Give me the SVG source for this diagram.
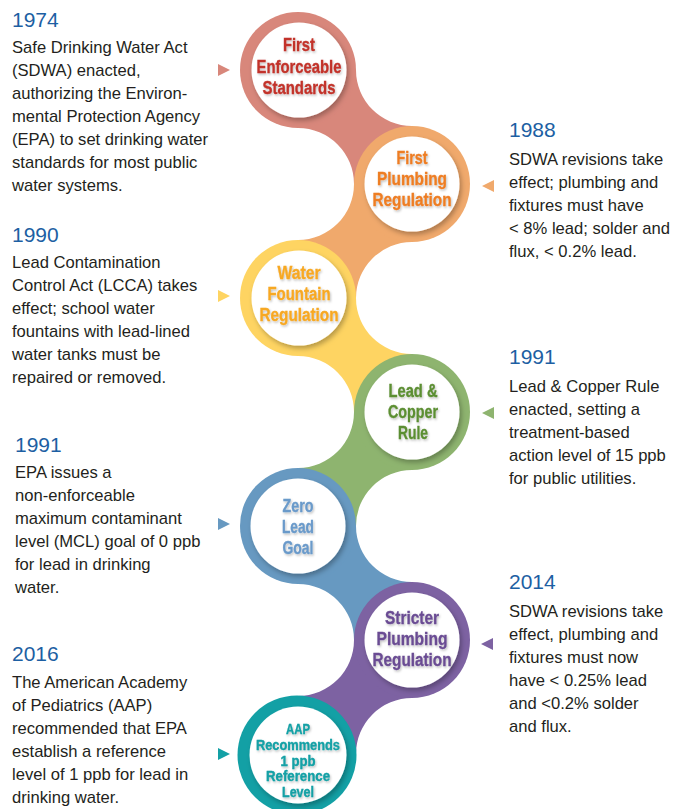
<svg xmlns="http://www.w3.org/2000/svg" width="686" height="809" viewBox="0 0 686 809">
<defs>
<filter id="disc" x="-20%" y="-20%" width="140%" height="140%">
<feDropShadow dx="2" dy="3" stdDeviation="2.5" flood-color="#000" flood-opacity="0.28"/>
</filter>
<filter id="ts" x="-10%" y="-20%" width="120%" height="150%">
<feDropShadow dx="1" dy="1.5" stdDeviation="1" flood-color="#000" flood-opacity="0.25"/>
</filter>
</defs>
<style>
.yr{font-family:"Liberation Sans",Arial,sans-serif;font-size:21px;fill:#1d5fa3}
.bd{font-family:"Liberation Sans",Arial,sans-serif;font-size:16.6px;fill:#231f20}
.lb{font-family:"Liberation Sans Narrow","Liberation Sans",Arial,sans-serif;font-weight:bold;font-size:18.8px;text-anchor:middle;filter:url(#ts);stroke-width:0.35}
.sm{font-size:14px}
.disc{fill:#fff;filter:url(#disc)}
</style>
<rect width="686" height="809" fill="#fff"/>
<g id="connectors">
<path d="M298,70 L356,70 A56,56 0 0 0 412,126 L412,184 L354,184 A56,56 0 0 0 298,128 Z" fill="#d8877b"/>
<path d="M412,184 L354,184 A56,56 0 0 1 298,240 L298,298 L356,298 A56,56 0 0 1 412,242 Z" fill="#f0a96c"/>
<path d="M298,298 L356,298 A56,56 0 0 0 412,354 L412,412 L354,412 A56,56 0 0 0 298,356 Z" fill="#fed462"/>
<path d="M412,412 L354,412 A56,56 0 0 1 298,468 L298,526 L356,526 A56,56 0 0 1 412,470 Z" fill="#8eb46f"/>
<path d="M298,526 L356,526 A56,56 0 0 0 412,582 L412,640 L354,640 A56,56 0 0 0 298,584 Z" fill="#6799c1"/>
<path d="M412,640 L354,640 A56,56 0 0 1 298,696 L298,754 L356,754 A56,56 0 0 1 412,698 Z" fill="#7d62a2"/>
</g>
<g id="node1">
<circle cx="298" cy="70" r="58" fill="#d8877b"/>
<circle class="disc" cx="299" cy="70" r="47.5"/>
<g class="lb" fill="#c2332a" stroke="#c2332a">
<text x="299" y="51" textLength="32" lengthAdjust="spacingAndGlyphs">First</text>
<text x="299" y="73" textLength="85" lengthAdjust="spacingAndGlyphs">Enforceable</text>
<text x="299" y="94" textLength="73" lengthAdjust="spacingAndGlyphs">Standards</text>
</g>
<polygon points="218,64 230,70 218,76" fill="#d8877b"/>
<text class="yr" x="12" y="27">1974</text>
<text class="bd" x="12" y="53">Safe Drinking Water Act</text>
<text class="bd" x="12" y="76">(SDWA) enacted,</text>
<text class="bd" x="12" y="99">authorizing the Environ-</text>
<text class="bd" x="12" y="122">mental Protection Agency</text>
<text class="bd" x="12" y="145">(EPA) to set drinking water</text>
<text class="bd" x="12" y="168">standards for most public</text>
<text class="bd" x="12" y="191">water systems.</text>
</g>
<g id="node2">
<circle cx="412" cy="184" r="58" fill="#f0a96c"/>
<circle class="disc" cx="412" cy="184" r="47.5"/>
<g class="lb" fill="#ee7d23" stroke="#ee7d23">
<text x="412" y="164" textLength="31" lengthAdjust="spacingAndGlyphs">First</text>
<text x="412" y="185" textLength="70" lengthAdjust="spacingAndGlyphs">Plumbing</text>
<text x="412" y="206" textLength="79" lengthAdjust="spacingAndGlyphs">Regulation</text>
</g>
<polygon points="494,180 482,186 494,192" fill="#f0a96c"/>
<text class="yr" x="509" y="137">1988</text>
<text class="bd" x="509" y="165">SDWA revisions take</text>
<text class="bd" x="509" y="188">effect; plumbing and</text>
<text class="bd" x="509" y="211">fixtures must have</text>
<text class="bd" x="509" y="234">&lt; 8% lead; solder and</text>
<text class="bd" x="509" y="257">flux, &lt; 0.2% lead.</text>
</g>
<g id="node3">
<circle cx="298" cy="298" r="58" fill="#fed462"/>
<circle class="disc" cx="299" cy="298" r="47.5"/>
<g class="lb" fill="#f7a823" stroke="#f7a823">
<text x="299" y="279" textLength="43" lengthAdjust="spacingAndGlyphs">Water</text>
<text x="299" y="300" textLength="63" lengthAdjust="spacingAndGlyphs">Fountain</text>
<text x="299" y="321" textLength="79" lengthAdjust="spacingAndGlyphs">Regulation</text>
</g>
<polygon points="218,290 230,296 218,302" fill="#fed462"/>
<text class="yr" x="12" y="242">1990</text>
<text class="bd" x="12" y="268">Lead Contamination</text>
<text class="bd" x="12" y="291">Control Act (LCCA) takes</text>
<text class="bd" x="12" y="314">effect; school water</text>
<text class="bd" x="12" y="337">fountains with lead-lined</text>
<text class="bd" x="12" y="360">water tanks must be</text>
<text class="bd" x="12" y="383">repaired or removed.</text>
</g>
<g id="node4">
<circle cx="412" cy="412" r="58" fill="#8eb46f"/>
<circle class="disc" cx="412" cy="412" r="47.5"/>
<g class="lb" fill="#5b8e31" stroke="#5b8e31">
<text x="413" y="397" textLength="49" lengthAdjust="spacingAndGlyphs">Lead &amp;</text>
<text x="413" y="418" textLength="50" lengthAdjust="spacingAndGlyphs">Copper</text>
<text x="413" y="439" textLength="30" lengthAdjust="spacingAndGlyphs">Rule</text>
</g>
<polygon points="494,407 482,413 494,419" fill="#8eb46f"/>
<text class="yr" x="509" y="364">1991</text>
<text class="bd" x="509" y="392">Lead &amp; Copper Rule</text>
<text class="bd" x="509" y="415">enacted, setting a</text>
<text class="bd" x="509" y="438">treatment-based</text>
<text class="bd" x="509" y="461">action level of 15 ppb</text>
<text class="bd" x="509" y="484">for public utilities.</text>
</g>
<g id="node5">
<circle cx="298" cy="526" r="58" fill="#6799c1"/>
<circle class="disc" cx="298" cy="526" r="47.5"/>
<g class="lb" fill="#6a9aca" stroke="#6a9aca">
<text x="298" y="512" textLength="31" lengthAdjust="spacingAndGlyphs">Zero</text>
<text x="298" y="533" textLength="32" lengthAdjust="spacingAndGlyphs">Lead</text>
<text x="298" y="554" textLength="31" lengthAdjust="spacingAndGlyphs">Goal</text>
</g>
<polygon points="218,518 230,524 218,530" fill="#6799c1"/>
<text class="yr" x="15" y="452">1991</text>
<text class="bd" x="15" y="478">EPA issues a</text>
<text class="bd" x="15" y="501">non-enforceable</text>
<text class="bd" x="15" y="524">maximum contaminant</text>
<text class="bd" x="15" y="547">level (MCL) goal of 0 ppb</text>
<text class="bd" x="15" y="570">for lead in drinking</text>
<text class="bd" x="15" y="593">water.</text>
</g>
<g id="node6">
<circle cx="412" cy="640" r="58" fill="#7d62a2"/>
<circle class="disc" cx="412" cy="640" r="47.5"/>
<g class="lb" fill="#6a4c93" stroke="#6a4c93">
<text x="412" y="624" textLength="54" lengthAdjust="spacingAndGlyphs">Stricter</text>
<text x="412" y="645" textLength="71" lengthAdjust="spacingAndGlyphs">Plumbing</text>
<text x="412" y="666" textLength="79" lengthAdjust="spacingAndGlyphs">Regulation</text>
</g>
<polygon points="493,638 481,644 493,650" fill="#7d62a2"/>
<text class="yr" x="509" y="589">2014</text>
<text class="bd" x="509" y="617">SDWA revisions take</text>
<text class="bd" x="509" y="640">effect, plumbing and</text>
<text class="bd" x="509" y="663">fixtures must now</text>
<text class="bd" x="509" y="686">have &lt; 0.25% lead</text>
<text class="bd" x="509" y="709">and &lt;0.2% solder</text>
<text class="bd" x="509" y="732">and flux.</text>
</g>
<g id="node7">
<circle cx="297" cy="755" r="59.5" fill="#13a0a5"/>
<circle class="disc" cx="298" cy="755" r="48.5"/>
<g class="lb sm" fill="#13a0a5" stroke="#13a0a5">
<text x="298" y="734" textLength="24" lengthAdjust="spacingAndGlyphs">AAP</text>
<text x="298" y="750" textLength="84" lengthAdjust="spacingAndGlyphs">Recommends</text>
<text x="298" y="765.5" textLength="35" lengthAdjust="spacingAndGlyphs">1 ppb</text>
<text x="298" y="781" textLength="64" lengthAdjust="spacingAndGlyphs">Reference</text>
<text x="298" y="797" textLength="32" lengthAdjust="spacingAndGlyphs">Level</text>
</g>
<polygon points="218,748 230,754 218,760" fill="#13a0a5"/>
<text class="yr" x="12" y="661">2016</text>
<text class="bd" x="12" y="688">The American Academy</text>
<text class="bd" x="12" y="711">of Pediatrics (AAP)</text>
<text class="bd" x="12" y="734">recommended that EPA</text>
<text class="bd" x="12" y="757">establish a reference</text>
<text class="bd" x="12" y="780">level of 1 ppb for lead in</text>
<text class="bd" x="12" y="803">drinking water.</text>
</g>
</svg>
